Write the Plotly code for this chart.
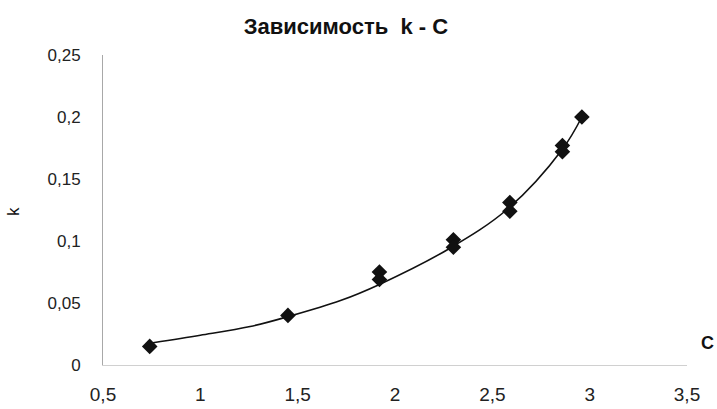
import plotly.graph_objects as go

# Measured points (C, k)
C_points = [0.74, 1.45, 1.92, 1.92, 2.30, 2.30, 2.59, 2.59, 2.86, 2.86, 2.96]
k_points = [0.015, 0.040, 0.075, 0.069, 0.101, 0.095, 0.131, 0.124, 0.177, 0.172, 0.200]

# Trend line
C_trend = [0.757, 1.0, 1.256, 1.45, 1.72, 1.92, 2.28, 2.58, 2.86, 2.96]
k_trend = [0.018, 0.024, 0.031, 0.039, 0.052, 0.065, 0.094, 0.126, 0.174, 0.200]

x_tickvals = [0.5, 1, 1.5, 2, 2.5, 3, 3.5]
x_ticktext = ["0,5", "1", "1,5", "2", "2,5", "3", "3,5"]
y_tickvals = [0, 0.05, 0.1, 0.15, 0.2, 0.25]
y_ticktext = ["0", "0,05", "0,1", "0,15", "0,2", "0,25"]

title_text = "Зависимость  k - C"

fig = go.Figure()
fig.add_trace(go.Scatter(x=C_trend, y=k_trend, mode="lines",
                         line=dict(color="#111111", width=1.6, shape="spline"),
                         showlegend=False, hoverinfo="skip"))
fig.add_trace(go.Scatter(x=C_points, y=k_points, mode="markers",
                         marker=dict(symbol="diamond", size=12, color="#111111"),
                         showlegend=False))

font_main = "Liberation Sans, Arial, sans-serif"
fig.update_layout(
    width=717, height=409,
    margin=dict(l=103, r=30, t=55, b=44),
    paper_bgcolor="white", plot_bgcolor="white",
    font=dict(family=font_main, size=16, color="#222222"),
    title=dict(text="<b>" + title_text + "</b>", x=346 / 717, xanchor="center",
               y=1 - 26 / 409, yanchor="middle",
               font=dict(family=font_main, size=22, color="#111111")),
    xaxis=dict(range=[0.5, 3.5], tickvals=x_tickvals, ticktext=x_ticktext,
               showgrid=False, zeroline=False, showline=True, linecolor="#d0d0d0",
               linewidth=1, ticks="", ticklabelstandoff=12, automargin=False,
               tickfont=dict(size=19, color="#222222")),
    yaxis=dict(range=[0, 0.25], tickvals=y_tickvals, ticktext=y_ticktext,
               showgrid=False, zeroline=False, showline=True, linecolor="#a8a8a8",
               linewidth=1, ticks="", ticklabelstandoff=18, automargin=False,
               tickfont=dict(size=17, color="#222222")),
    annotations=[
        dict(text="k", xref="paper", yref="paper", x=0, y=(365 - 212) / 310,
             xshift=-90, showarrow=False, textangle=-90,
             font=dict(size=17, color="#111111"), xanchor="center", yanchor="middle"),
        dict(text="<b>C</b>", xref="paper", yref="paper", x=1, y=(365 - 343) / 310,
             xshift=20, showarrow=False,
             font=dict(size=18, color="#111111"), xanchor="center", yanchor="middle"),
    ],
)

fig.write_html("out.html")
